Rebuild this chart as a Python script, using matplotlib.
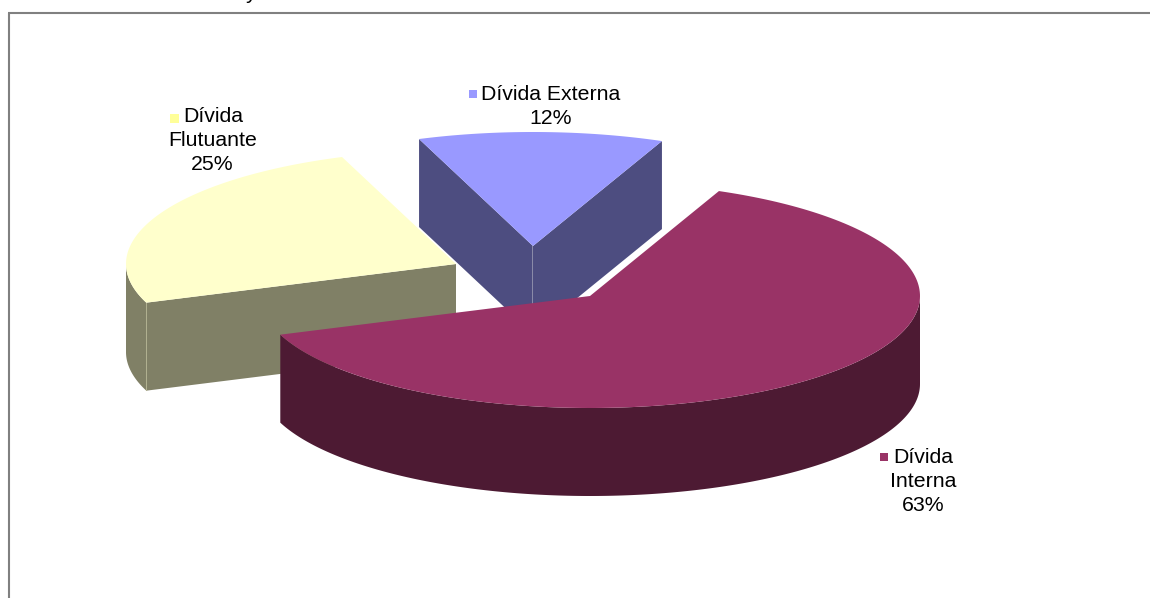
import numpy as np
import matplotlib
matplotlib.use("Agg")
import matplotlib.pyplot as plt
from matplotlib.patches import Rectangle

plt.rcParams['font.family'] = ['Liberation Sans', 'DejaVu Sans']

names = ['Dívida Interna', 'Dívida Flutuante', 'Dívida Externa']
shares = [63, 25, 12]
top_colors = ['#993366', '#FFFFCC', '#9999FF']
side_colors = ['#4D1A33', '#808066', '#4D4D80']
key_colors = ['#993366', '#FFFF99', '#9999FF']

# pie layout in pixels, the far half of the disc is a little taller
RX = 330
RY_BACK, RY_FRONT = 114, 112
DEPTH = 88
START = 67
centers = [(590, 296), (456, 264), (533, 246)]

# label lines, key square and text anchors
label_lines = [['Dívida', 'Interna'], ['Dívida', 'Flutuante'], ['Dívida Externa']]
label_x = [[923.5, 923.5], [213, 213], [550.5]]
label_y = [[463, 487], [122, 146], [100]]
share_pos = [(923.5, 511), (212.5, 170), (550.5, 124)]
key_boxes = [(880, 453, 8), (170, 114, 9), (469, 90, 8)]
FONT_SIZE = 15.3


def arc(center, a0, a1, n=200):
    t = np.radians(np.linspace(a0, a1, n))
    s = np.sin(t)
    ry = np.where(s > 0, RY_BACK, RY_FRONT)
    return center[0] + RX * np.cos(t), center[1] - ry * s


def top_face(ax, center, a0, a1, color):
    x, y = arc(center, a0, a1)
    ax.fill(np.r_[center[0], x], np.r_[center[1], y], color=color, lw=0)


def rim(ax, center, a0, a1, color):
    x, y = arc(center, a0, a1)
    ax.fill(np.r_[x, x[::-1]], np.r_[y, y[::-1] + DEPTH], color=color, lw=0)


def cut_face(ax, center, angle, color):
    x, y = arc(center, angle, angle, 1)
    ax.fill([center[0], x[0], x[0], center[0]],
            [center[1], y[0], y[0] + DEPTH, center[1] + DEPTH],
            color=color, lw=0)


def edge(ax, px, py, color):
    ax.fill([px - 0.5, px + 0.5, px + 0.5, px - 0.5],
            [py, py, py + DEPTH, py + DEPTH], color=color, lw=0)


fig = plt.figure(figsize=(11.5, 5.98), dpi=100)
ax = fig.add_axes([0, 0, 1, 1])
ax.set_xlim(0, 1150)
ax.set_ylim(598, 0)
ax.axis('off')

ends = START - np.cumsum(shares) * 3.6
starts = np.r_[START, ends[:-1]]

# back slice first, the large slice sits in front of everything
a0, a1 = starts[2] + 360, ends[2] + 360
cut_face(ax, centers[2], a0, side_colors[2])
cut_face(ax, centers[2], a1, side_colors[2])
edge(ax, centers[2][0] - 0.5, centers[2][1], '#8A8AA8')
top_face(ax, centers[2], a0, a1, top_colors[2])

a0, a1 = starts[1] + 360, ends[1] + 360
rim(ax, centers[1], 180, a0, side_colors[1])
cut_face(ax, centers[1], a0, side_colors[1])
x, y = arc(centers[1], a0, a0, 1)
edge(ax, x[0], y[0], '#B0B090')
top_face(ax, centers[1], a0, a1, top_colors[1])

a0, a1 = starts[0], ends[0]
rim(ax, centers[0], 0, a1, side_colors[0])
top_face(ax, centers[0], a0, a1, top_colors[0])

# data labels with their small colour keys
for i in range(3):
    for line, lx, ly in zip(label_lines[i], label_x[i], label_y[i]):
        ax.text(lx, ly, line, fontsize=FONT_SIZE, ha='center', va='baseline', color='black')
    ax.text(share_pos[i][0], share_pos[i][1], f'{shares[i]}%', fontsize=FONT_SIZE,
            ha='center', va='baseline', color='black')
    kx, ky, ks = key_boxes[i]
    ax.add_patch(Rectangle((kx, ky), ks, ks, color=key_colors[i], lw=0))

# heading line above the frame, only its tail reaches the canvas
ax.text(251, -1, 'y', fontsize=FONT_SIZE, ha='center', va='baseline', color='black')

# chart frame, open on the right
ax.plot([9, 9], [598, 13], color='#808080', lw=1.5, solid_capstyle='butt')
ax.plot([8, 1150], [13, 13], color='#808080', lw=1.5, solid_capstyle='butt')

fig.savefig('out.png', dpi=100)
